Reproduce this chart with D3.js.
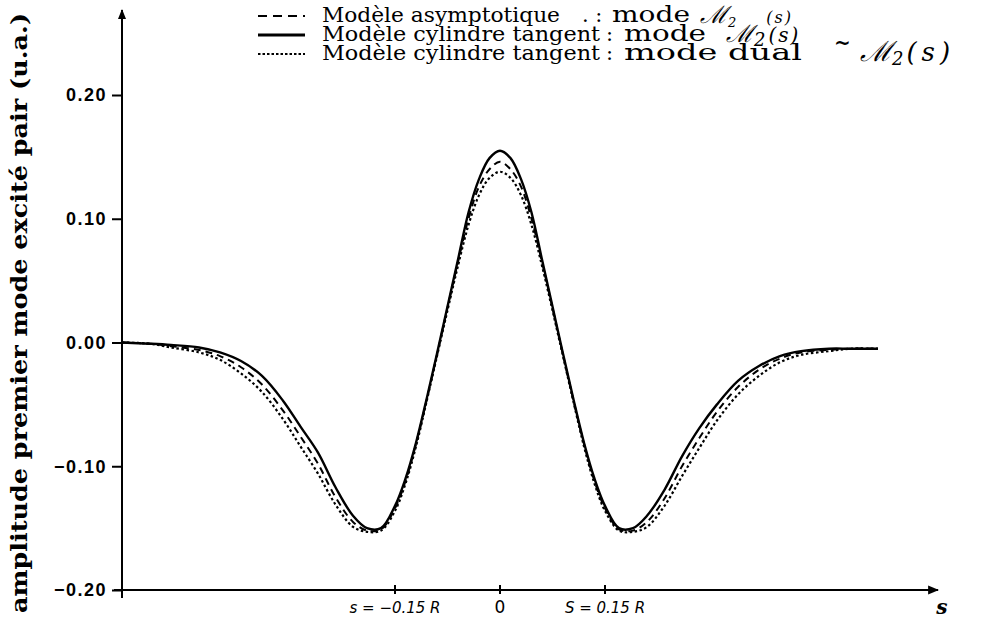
<!DOCTYPE html>
<html>
<head>
<meta charset="utf-8">
<script src="https://cdn.jsdelivr.net/npm/d3@7"></script>
<style>
  body { margin: 0; background: #fff; }
  svg { display: block; }
  .tick text { font-family: "Liberation Sans", Arial, sans-serif; font-weight: bold; }
</style>
</head>
<body>
<div id="chart"></div>
<script>
// abscissa s (in units of R)
const sValues = [-0.54, -0.50, -0.47, -0.43, -0.40, -0.37, -0.34, -0.31, -0.285, -0.26, -0.235, -0.21, -0.19, -0.17, -0.15, -0.135, -0.12, -0.105, -0.09, -0.075, -0.06, -0.045, -0.03, -0.015,
  0,
  0.015, 0.03, 0.045, 0.06, 0.075, 0.09, 0.105, 0.12, 0.135, 0.15, 0.17, 0.19, 0.21, 0.235, 0.26, 0.285, 0.31, 0.34, 0.37, 0.40, 0.43, 0.47, 0.50, 0.54];

// Modèle cylindre tangent : mode M2(s)  (solid)
const cylindreValues = [0.000, -0.001, -0.002, -0.004, -0.008, -0.015, -0.027, -0.047, -0.068, -0.089, -0.117, -0.140, -0.150, -0.150, -0.132, -0.110, -0.081, -0.046, -0.009, 0.029, 0.067, 0.105, 0.132, 0.149,
  0.155,
  0.149, 0.132, 0.105, 0.067, 0.029, -0.009, -0.046, -0.081, -0.110, -0.132, -0.150, -0.150, -0.140, -0.119, -0.092, -0.069, -0.050, -0.031, -0.019, -0.011, -0.007, -0.005, -0.005, -0.005];

// Modèle asymptotique : mode M2(s)  (dashed)
const asymptotiqueValues = [0.000, -0.001, -0.003, -0.006, -0.011, -0.020, -0.034, -0.055, -0.076, -0.098, -0.125, -0.145, -0.152, -0.151, -0.134, -0.112, -0.082, -0.047, -0.010, 0.028, 0.065, 0.100, 0.126, 0.140,
  0.146,
  0.140, 0.126, 0.100, 0.065, 0.028, -0.010, -0.047, -0.082, -0.112, -0.134, -0.151, -0.152, -0.145, -0.126, -0.100, -0.077, -0.056, -0.036, -0.022, -0.013, -0.008, -0.006, -0.005, -0.005];

// Modèle cylindre tangent : mode dual M~2(s)  (dotted)
const dualValues = [0.000, -0.001, -0.004, -0.008, -0.014, -0.025, -0.040, -0.062, -0.084, -0.106, -0.131, -0.149, -0.153, -0.152, -0.136, -0.114, -0.084, -0.048, -0.011, 0.026, 0.062, 0.095, 0.119, 0.133,
  0.138,
  0.133, 0.119, 0.095, 0.062, 0.026, -0.011, -0.048, -0.084, -0.114, -0.136, -0.152, -0.153, -0.149, -0.132, -0.108, -0.085, -0.063, -0.042, -0.027, -0.016, -0.010, -0.007, -0.005, -0.005];

const yTickValues = [-0.20, -0.10, 0.00, 0.10, 0.20];
const yTickLabels = ["\u22120.20", "\u22120.10", "0.00", "0.10", "0.20"];
const xTickValues = [-0.15, 0, 0.15];
const xTickLabels = ["s = \u22120.15 R", "0", "S = 0.15 R"];

const legendModels = ["Modèle asymptotique", "Modèle cylindre tangent", "Modèle cylindre tangent"];
const legendModes = ["mode", "mode", "mode dual"];
const yTitle = "amplitude premier mode excité pair (u.a.)";

const width = 1000, height = 627;
const svg = d3.select("#chart").append("svg")
  .attr("width", width)
  .attr("height", height);

const x = d3.scaleLinear().domain([-0.54, 0.54]).range([122, 878]);
const y = d3.scaleLinear().domain([-0.20, 0.20]).range([590, 95]);

const ink = "#000";
const serif = "'DejaVu Serif', 'Liberation Serif', serif";

// arrow heads
svg.append("defs").append("marker")
  .attr("id", "arrow")
  .attr("viewBox", "0 0 10 10")
  .attr("refX", 9).attr("refY", 5)
  .attr("markerWidth", 5).attr("markerHeight", 5)
  .attr("orient", "auto")
  .append("path")
    .attr("d", "M0,1 L10,5 L0,9 Z")
    .attr("fill", ink);

// y axis
const yAxis = svg.append("g")
  .attr("transform", "translate(" + x(-0.54) + ",0)")
  .call(d3.axisLeft(y)
    .tickValues(yTickValues)
    .tickSize(10)
    .tickPadding(5)
    .tickFormat((d, i) => yTickLabels[i]));
yAxis.select(".domain").remove();
yAxis.selectAll(".tick line").attr("stroke", ink).attr("stroke-width", 2);
yAxis.selectAll(".tick text")
  .attr("fill", ink)
  .style("font-size", "18px")
  .style("letter-spacing", "1.5px");

svg.append("line")
  .attr("x1", x(-0.54)).attr("x2", x(-0.54))
  .attr("y1", y(-0.20) + 8).attr("y2", 10)
  .attr("stroke", ink).attr("stroke-width", 2)
  .attr("marker-end", "url(#arrow)");

// x axis
svg.append("line")
  .attr("x1", x(-0.54) - 8).attr("x2", 938)
  .attr("y1", y(-0.20)).attr("y2", y(-0.20))
  .attr("stroke", ink).attr("stroke-width", 2.2)
  .attr("marker-end", "url(#arrow)");

const xTicks = svg.append("g").selectAll("g")
  .data(xTickValues)
  .enter().append("g")
    .attr("transform", d => "translate(" + x(d) + "," + y(-0.20) + ")");
xTicks.append("line")
  .attr("y1", -5).attr("y2", 4)
  .attr("stroke", ink).attr("stroke-width", 2);
xTicks.append("text")
  .attr("y", 23)
  .attr("text-anchor", "middle")
  .style("font-family", "'DejaVu Sans', sans-serif")
  .style("font-style", (d, i) => i === 1 ? "normal" : "italic")
  .style("font-size", (d, i) => i === 1 ? "17px" : "15px")
  .text((d, i) => xTickLabels[i]);

svg.append("text")
  .attr("x", 942).attr("y", 614)
  .attr("text-anchor", "middle")
  .style("font-family", serif)
  .style("font-style", "italic")
  .style("font-weight", "bold")
  .style("font-size", "20px")
  .text("s");

// y axis title
svg.append("text")
  .attr("transform", "translate(27,313) rotate(-90)")
  .attr("text-anchor", "middle")
  .attr("textLength", 600)
  .attr("lengthAdjust", "spacingAndGlyphs")
  .style("font-family", serif)
  .style("font-weight", "bold")
  .style("font-size", "22px")
  .text(yTitle);

// curves
const series = [
  { values: asymptotiqueValues, dash: "7,5", width: 2 },
  { values: cylindreValues, dash: null, width: 2.4 },
  { values: dualValues, dash: "2.5,2.5", width: 2.2 }
];

const line = d3.line()
  .x(d => x(d[0]))
  .y(d => y(d[1]))
  .curve(d3.curveCatmullRom);

svg.append("g").selectAll("path")
  .data(series)
  .enter().append("path")
    .attr("d", d => line(d.values.map((v, i) => [sValues[i], v])))
    .attr("fill", "none")
    .attr("stroke", ink)
    .attr("stroke-width", d => d.width)
    .attr("stroke-dasharray", d => d.dash);

// legend
const rowY = [22, 41, 60];
const rowStyle = [
  { dash: "9,6", width: 2 },
  { dash: null, width: 3 },
  { dash: "2.5,2", width: 2 }
];
const modelLen = [238, 278, 278];
const sepX = [582, 606, 606];
const sepText = [". :", ":", ":"];
const modeX = [612, 624, 624];
const modeLen = [78, 82, 178];
const symX = [700, 726, 860];
const symSize = [24, 24, 28];
const subDx = [30, 3, 3];
const parenSize = [16, 20, 26];

const legend = svg.append("g");
rowY.forEach((ry, i) => {
  legend.append("line")
    .attr("x1", 258).attr("x2", 305)
    .attr("y1", ry - 6).attr("y2", ry - 6)
    .attr("stroke", ink)
    .attr("stroke-width", rowStyle[i].width)
    .attr("stroke-dasharray", rowStyle[i].dash);

  const t = legend.append("text")
    .attr("y", ry)
    .style("font-family", serif)
    .style("font-size", "21px")
    .attr("fill", ink);
  t.append("tspan").attr("x", 322)
    .attr("textLength", modelLen[i]).attr("lengthAdjust", "spacingAndGlyphs")
    .text(legendModels[i]);
  t.append("tspan").attr("x", sepX[i]).text(sepText[i]);
  t.append("tspan").attr("x", modeX[i])
    .attr("textLength", modeLen[i]).attr("lengthAdjust", "spacingAndGlyphs")
    .style("font-size", "22px")
    .text(legendModes[i]);

  const m = legend.append("text")
    .attr("x", symX[i]).attr("y", ry + 1)
    .style("font-family", serif)
    .attr("fill", ink);
  m.append("tspan")
    .style("font-style", "italic")
    .style("font-size", symSize[i] + "px")
    .text("\u2133");
  m.append("tspan")
    .attr("dy", 4)
    .style("font-size", i === 0 ? "13px" : "18px")
    .style("font-style", "italic")
    .text("2");
  m.append("tspan")
    .attr("dy", -4)
    .attr("dx", subDx[i])
    .style("font-style", "italic")
    .style("letter-spacing", i === 2 ? "5px" : "2px")
    .style("font-size", parenSize[i] + "px")
    .text("(s)");
});

// tilde of the dual mode, drawn above its symbol
legend.append("text")
  .attr("x", symX[2] - 26).attr("y", 50)
  .style("font-family", serif)
  .style("font-weight", "bold")
  .style("font-size", "20px")
  .attr("fill", ink)
  .text("~");
</script>
</body>
</html>
